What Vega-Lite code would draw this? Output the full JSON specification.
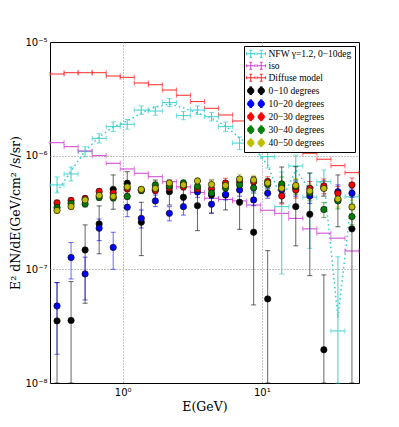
{
  "$schema": "https://vega.github.io/schema/vega-lite/v6.json",
  "width": 309,
  "height": 341,
  "autosize": "none",
  "padding": {"left": 50, "top": 42, "right": 40, "bottom": 44},
  "background": "white",
  "config": {"view": {"stroke": "black", "strokeWidth": 1}},
  "datasets": {
    "curve": [
      {"E": 0.337, "v": 4.8e-7}, {"E": 0.4252, "v": 7.33e-7}, {"E": 0.5365, "v": 1.1e-6}, {"E": 0.6769, "v": 1.46e-6},
      {"E": 0.8542, "v": 1.79e-6}, {"E": 1.0778, "v": 2.02e-6}, {"E": 1.36, "v": 2.37e-6}, {"E": 1.716, "v": 2.68e-6},
      {"E": 2.1652, "v": 2.85e-6}, {"E": 2.732, "v": 2.63e-6}, {"E": 3.4472, "v": 2.37e-6}, {"E": 4.3497, "v": 2.15e-6},
      {"E": 5.4883, "v": 1.82e-6}, {"E": 6.925, "v": 1.43e-6}, {"E": 8.7378, "v": 1.17e-6}, {"E": 11.025, "v": 8.28e-7},
      {"E": 13.911, "v": 4.08e-7}, {"E": 17.553, "v": 7.48e-7}, {"E": 22.148, "v": 4.99e-7}, {"E": 27.946, "v": 6.11e-7},
      {"E": 35.262, "v": 3.74e-8}, {"E": 44.493, "v": 4.51e-7}
    ],
    "models": [
      {"s": "NFW", "E": 0.337, "Elo": 0.3, "Ehi": 0.3786, "v": 5.53e-7, "lo": 4.7e-7, "hi": 6.5e-7},
      {"s": "NFW", "E": 0.4252, "Elo": 0.3786, "Ehi": 0.4777, "v": 6.9e-7, "lo": 5.99e-7, "hi": 7.95e-7},
      {"s": "NFW", "E": 0.5365, "Elo": 0.4777, "Ehi": 0.6027, "v": 1.085e-6, "lo": 9.8e-7, "hi": 1.2e-6},
      {"s": "NFW", "E": 0.6769, "Elo": 0.6027, "Ehi": 0.7605, "v": 1.42e-6, "lo": 1.29e-6, "hi": 1.56e-6},
      {"s": "NFW", "E": 0.8542, "Elo": 0.7605, "Ehi": 0.9596, "v": 1.8e-6, "lo": 1.63e-6, "hi": 1.98e-6},
      {"s": "NFW", "E": 1.0778, "Elo": 0.9596, "Ehi": 1.2108, "v": 1.89e-6, "lo": 1.71e-6, "hi": 2.08e-6},
      {"s": "NFW", "E": 1.36, "Elo": 1.2108, "Ehi": 1.5278, "v": 2.52e-6, "lo": 2.31e-6, "hi": 2.74e-6},
      {"s": "NFW", "E": 1.716, "Elo": 1.5278, "Ehi": 1.9277, "v": 2.47e-6, "lo": 2.27e-6, "hi": 2.69e-6},
      {"s": "NFW", "E": 2.1652, "Elo": 1.9277, "Ehi": 2.4323, "v": 2.93e-6, "lo": 2.7e-6, "hi": 3.18e-6},
      {"s": "NFW", "E": 2.732, "Elo": 2.4323, "Ehi": 3.069, "v": 2.25e-6, "lo": 2.07e-6, "hi": 2.45e-6},
      {"s": "NFW", "E": 3.4472, "Elo": 3.069, "Ehi": 3.8724, "v": 2.52e-6, "lo": 2.31e-6, "hi": 2.74e-6},
      {"s": "NFW", "E": 4.3497, "Elo": 3.8724, "Ehi": 4.8862, "v": 2.2e-6, "lo": 2.02e-6, "hi": 2.4e-6},
      {"s": "NFW", "E": 5.4883, "Elo": 4.8862, "Ehi": 6.1653, "v": 1.8e-6, "lo": 1.63e-6, "hi": 1.98e-6},
      {"s": "NFW", "E": 6.925, "Elo": 6.1653, "Ehi": 7.7793, "v": 1.29e-6, "lo": 1.13e-6, "hi": 1.46e-6},
      {"s": "NFW", "E": 8.7378, "Elo": 7.7793, "Ehi": 9.818, "v": 1.72e-6, "lo": 1.5e-6, "hi": 1.95e-6},
      {"s": "NFW", "E": 11.025, "Elo": 9.818, "Ehi": 12.388, "v": 9.8e-7, "lo": 7.8e-7, "hi": 1.17e-6},
      {"s": "NFW", "E": 13.911, "Elo": 12.388, "Ehi": 15.631, "v": 3.56e-7, "lo": 9.12e-8, "hi": 7.19e-7},
      {"s": "NFW", "E": 17.553, "Elo": 15.631, "Ehi": 19.724, "v": 8.11e-7, "lo": 5.9e-7, "hi": 1.01e-6},
      {"s": "NFW", "E": 22.148, "Elo": 19.724, "Ehi": 24.889, "v": 4.31e-7, "lo": 1.53e-7, "hi": 7.0e-7},
      {"s": "NFW", "E": 27.946, "Elo": 24.889, "Ehi": 31.405, "v": 5.9e-7, "lo": 4.42e-7, "hi": 7.48e-7},
      {"s": "NFW", "E": 35.262, "Elo": 31.405, "Ehi": 39.628, "v": 2.87e-8, "lo": 1e-9, "hi": 1.29e-7},
      {"s": "NFW", "E": 44.493, "Elo": 39.628, "Ehi": 50, "v": 4.34e-7, "lo": 3.84e-7, "hi": 4.99e-7},
      {"s": "iso", "E": 0.337, "Elo": 0.3, "Ehi": 0.3786, "v": 1.3e-6},
      {"s": "iso", "E": 0.4252, "Elo": 0.3786, "Ehi": 0.4777, "v": 1.2e-6},
      {"s": "iso", "E": 0.5365, "Elo": 0.4777, "Ehi": 0.6027, "v": 1.1e-6},
      {"s": "iso", "E": 0.6769, "Elo": 0.6027, "Ehi": 0.7605, "v": 1.0e-6},
      {"s": "iso", "E": 0.8542, "Elo": 0.7605, "Ehi": 0.9596, "v": 8.57e-7},
      {"s": "iso", "E": 1.0778, "Elo": 0.9596, "Ehi": 1.2108, "v": 7.64e-7},
      {"s": "iso", "E": 1.36, "Elo": 1.2108, "Ehi": 1.5278, "v": 7.0e-7},
      {"s": "iso", "E": 1.716, "Elo": 1.5278, "Ehi": 1.9277, "v": 6.53e-7},
      {"s": "iso", "E": 2.1652, "Elo": 1.9277, "Ehi": 2.4323, "v": 5.9e-7},
      {"s": "iso", "E": 2.732, "Elo": 2.4323, "Ehi": 3.069, "v": 5.31e-7},
      {"s": "iso", "E": 3.4472, "Elo": 3.069, "Ehi": 3.8724, "v": 4.75e-7},
      {"s": "iso", "E": 4.3497, "Elo": 3.8724, "Ehi": 4.8862, "v": 4.22e-7},
      {"s": "iso", "E": 5.4883, "Elo": 4.8862, "Ehi": 6.1653, "v": 4.12e-7},
      {"s": "iso", "E": 6.925, "Elo": 6.1653, "Ehi": 7.7793, "v": 4.0e-7},
      {"s": "iso", "E": 8.7378, "Elo": 7.7793, "Ehi": 9.818, "v": 3.68e-7},
      {"s": "iso", "E": 11.025, "Elo": 9.818, "Ehi": 12.388, "v": 3.31e-7},
      {"s": "iso", "E": 13.911, "Elo": 12.388, "Ehi": 15.631, "v": 3.11e-7},
      {"s": "iso", "E": 17.553, "Elo": 15.631, "Ehi": 19.724, "v": 2.81e-7},
      {"s": "iso", "E": 22.148, "Elo": 19.724, "Ehi": 24.889, "v": 2.27e-7},
      {"s": "iso", "E": 27.946, "Elo": 24.889, "Ehi": 31.405, "v": 2.08e-7},
      {"s": "iso", "E": 35.262, "Elo": 31.405, "Ehi": 39.628, "v": 1.88e-7},
      {"s": "iso", "E": 44.493, "Elo": 39.628, "Ehi": 50, "v": 1.45e-7},
      {"s": "diffuse", "E": 0.337, "Elo": 0.3, "Ehi": 0.3786, "v": 5.23e-6},
      {"s": "diffuse", "E": 0.4252, "Elo": 0.3786, "Ehi": 0.4777, "v": 5.37e-6},
      {"s": "diffuse", "E": 0.5365, "Elo": 0.4777, "Ehi": 0.6027, "v": 5.37e-6},
      {"s": "diffuse", "E": 0.6769, "Elo": 0.6027, "Ehi": 0.7605, "v": 5.37e-6},
      {"s": "diffuse", "E": 0.8542, "Elo": 0.7605, "Ehi": 0.9596, "v": 5.02e-6},
      {"s": "diffuse", "E": 1.0778, "Elo": 0.9596, "Ehi": 1.2108, "v": 4.89e-6},
      {"s": "diffuse", "E": 1.36, "Elo": 1.2108, "Ehi": 1.5278, "v": 4.36e-6},
      {"s": "diffuse", "E": 1.716, "Elo": 1.5278, "Ehi": 1.9277, "v": 4.21e-6},
      {"s": "diffuse", "E": 2.1652, "Elo": 1.9277, "Ehi": 2.4323, "v": 3.78e-6},
      {"s": "diffuse", "E": 2.732, "Elo": 2.4323, "Ehi": 3.069, "v": 3.4e-6},
      {"s": "diffuse", "E": 3.4472, "Elo": 3.069, "Ehi": 3.8724, "v": 2.99e-6},
      {"s": "diffuse", "E": 4.3497, "Elo": 3.8724, "Ehi": 4.8862, "v": 2.61e-6},
      {"s": "diffuse", "E": 5.4883, "Elo": 4.8862, "Ehi": 6.1653, "v": 2.28e-6},
      {"s": "diffuse", "E": 6.925, "Elo": 6.1653, "Ehi": 7.7793, "v": 2.02e-6},
      {"s": "diffuse", "E": 8.7378, "Elo": 7.7793, "Ehi": 9.818, "v": 1.75e-6},
      {"s": "diffuse", "E": 11.025, "Elo": 9.818, "Ehi": 12.388, "v": 1.52e-6},
      {"s": "diffuse", "E": 13.911, "Elo": 12.388, "Ehi": 15.631, "v": 1.32e-6},
      {"s": "diffuse", "E": 17.553, "Elo": 15.631, "Ehi": 19.724, "v": 1.16e-6},
      {"s": "diffuse", "E": 22.148, "Elo": 19.724, "Ehi": 24.889, "v": 1.05e-6},
      {"s": "diffuse", "E": 27.946, "Elo": 24.889, "Ehi": 31.405, "v": 9.3e-7},
      {"s": "diffuse", "E": 35.262, "Elo": 31.405, "Ehi": 39.628, "v": 8.17e-7},
      {"s": "diffuse", "E": 44.493, "Elo": 39.628, "Ehi": 50, "v": 7.09e-7}
    ],
    "points": [
      {"s": "d0", "E": 0.337, "v": 3.52e-8, "lo": 1e-9, "hi": 7.64e-8},
      {"s": "d0", "E": 0.4252, "v": 3.55e-8, "lo": 1e-9, "hi": 7.8e-8},
      {"s": "d0", "E": 0.5365, "v": 1.48e-7, "lo": 5.03e-8, "hi": 2.46e-7},
      {"s": "d0", "E": 0.6769, "v": 2.51e-7, "lo": 1.37e-7, "hi": 3.61e-7},
      {"s": "d0", "E": 0.8542, "v": 5.06e-7, "lo": 3.38e-7, "hi": 6.77e-7},
      {"s": "d0", "E": 1.0778, "v": 5.72e-7, "lo": 4.25e-7, "hi": 7.23e-7},
      {"s": "d0", "E": 1.36, "v": 2.6e-7, "lo": 1.32e-7, "hi": 3.89e-7},
      {"s": "d0", "E": 1.716, "v": 4.99e-7, "lo": 4.0e-7, "hi": 6.1e-7},
      {"s": "d0", "E": 2.1652, "v": 4.82e-7, "lo": 3.68e-7, "hi": 6.11e-7},
      {"s": "d0", "E": 2.732, "v": 4.31e-7, "lo": 3.68e-7, "hi": 5.2e-7},
      {"s": "d0", "E": 3.4472, "v": 3.63e-7, "lo": 2.19e-7, "hi": 5.72e-7},
      {"s": "d0", "E": 4.3497, "v": 4.51e-7, "lo": 3.13e-7, "hi": 6.11e-7},
      {"s": "d0", "E": 5.4883, "v": 4.51e-7, "lo": 3.33e-7, "hi": 5.99e-7},
      {"s": "d0", "E": 6.925, "v": 3.89e-7, "lo": 2.25e-7, "hi": 6.53e-7},
      {"s": "d0", "E": 8.7378, "v": 2.12e-7, "lo": 4.86e-8, "hi": 6.53e-7},
      {"s": "d0", "E": 11.025, "v": 5.49e-8, "lo": 1e-9, "hi": 1.46e-7},
      {"s": "d0", "E": 13.911, "v": 5.41e-7, "lo": 3.84e-7, "hi": 7.95e-7},
      {"s": "d0", "E": 17.553, "v": 3.56e-7, "lo": 1.61e-7, "hi": 8.0e-7},
      {"s": "d0", "E": 22.148, "v": 3.05e-7, "lo": 8.8e-8, "hi": 7.04e-7},
      {"s": "d0", "E": 27.946, "v": 1.96e-8, "lo": 1e-9, "hi": 8.93e-8},
      {"s": "d0", "E": 35.262, "v": 4.08e-7, "lo": 2.37e-7, "hi": 6.77e-7},
      {"s": "d0", "E": 44.493, "v": 2.27e-7, "lo": 1e-9, "hi": 5.53e-7},
      {"s": "d10", "E": 0.337, "v": 4.76e-8, "lo": 1.79e-8, "hi": 7.64e-8},
      {"s": "d10", "E": 0.4252, "v": 1.27e-7, "lo": 8.23e-8, "hi": 1.72e-7},
      {"s": "d10", "E": 0.5365, "v": 9.11e-8, "lo": 5.38e-8, "hi": 1.28e-7},
      {"s": "d10", "E": 0.6769, "v": 2.3e-7, "lo": 1.79e-7, "hi": 2.77e-7},
      {"s": "d10", "E": 0.8542, "v": 1.56e-7, "lo": 1.0e-7, "hi": 2.12e-7},
      {"s": "d10", "E": 1.0778, "v": 3.52e-7, "lo": 2.91e-7, "hi": 4.27e-7},
      {"s": "d10", "E": 1.36, "v": 2.81e-7, "lo": 2.31e-7, "hi": 3.33e-7},
      {"s": "d10", "E": 1.716, "v": 4.0e-7, "lo": 3.56e-7, "hi": 4.5e-7},
      {"s": "d10", "E": 2.1652, "v": 3.11e-7, "lo": 2.67e-7, "hi": 3.56e-7},
      {"s": "d10", "E": 2.732, "v": 3.56e-7, "lo": 3.0e-7, "hi": 4.08e-7},
      {"s": "d10", "E": 3.4472, "v": 4.79e-7, "lo": 4.3e-7, "hi": 5.3e-7},
      {"s": "d10", "E": 4.3497, "v": 3.74e-7, "lo": 3.11e-7, "hi": 4.22e-7},
      {"s": "d10", "E": 5.4883, "v": 4.57e-7, "lo": 4.08e-7, "hi": 5.17e-7},
      {"s": "d10", "E": 6.925, "v": 4.99e-7, "lo": 4.4e-7, "hi": 5.6e-7},
      {"s": "d10", "E": 8.7378, "v": 4.08e-7, "lo": 3.63e-7, "hi": 4.8e-7},
      {"s": "d10", "E": 11.025, "v": 4.67e-7, "lo": 4.22e-7, "hi": 5.17e-7},
      {"s": "d10", "E": 13.911, "v": 4.99e-7, "lo": 4.3e-7, "hi": 5.8e-7},
      {"s": "d10", "E": 17.553, "v": 5.2e-7, "lo": 4.4e-7, "hi": 6.0e-7},
      {"s": "d10", "E": 22.148, "v": 4.42e-7, "lo": 3.8e-7, "hi": 5.1e-7},
      {"s": "d10", "E": 27.946, "v": 5.2e-7, "lo": 4.4e-7, "hi": 6.0e-7},
      {"s": "d10", "E": 35.262, "v": 4.82e-7, "lo": 4.22e-7, "hi": 5.53e-7},
      {"s": "d10", "E": 44.493, "v": 4.67e-7, "lo": 4.3e-7, "hi": 5.1e-7},
      {"s": "d20", "E": 0.337, "v": 3.84e-7, "lo": 3.61e-7, "hi": 4.07e-7},
      {"s": "d20", "E": 0.4252, "v": 4.04e-7, "lo": 3.8e-7, "hi": 4.28e-7},
      {"s": "d20", "E": 0.5365, "v": 4.2e-7, "lo": 3.95e-7, "hi": 4.45e-7},
      {"s": "d20", "E": 0.6769, "v": 4.85e-7, "lo": 4.56e-7, "hi": 5.14e-7},
      {"s": "d20", "E": 0.8542, "v": 4.7e-7, "lo": 4.42e-7, "hi": 4.98e-7},
      {"s": "d20", "E": 1.0778, "v": 5.1e-7, "lo": 4.79e-7, "hi": 5.41e-7},
      {"s": "d20", "E": 1.36, "v": 4.99e-7, "lo": 4.69e-7, "hi": 5.29e-7},
      {"s": "d20", "E": 1.716, "v": 4.94e-7, "lo": 4.64e-7, "hi": 5.24e-7},
      {"s": "d20", "E": 2.1652, "v": 5.2e-7, "lo": 4.89e-7, "hi": 5.51e-7},
      {"s": "d20", "E": 2.732, "v": 5.31e-7, "lo": 4.99e-7, "hi": 5.63e-7},
      {"s": "d20", "E": 3.4472, "v": 5.1e-7, "lo": 4.79e-7, "hi": 5.41e-7},
      {"s": "d20", "E": 4.3497, "v": 5.1e-7, "lo": 4.59e-7, "hi": 5.61e-7},
      {"s": "d20", "E": 5.4883, "v": 5.75e-7, "lo": 5.18e-7, "hi": 6.33e-7},
      {"s": "d20", "E": 6.925, "v": 5.93e-7, "lo": 5.34e-7, "hi": 6.52e-7},
      {"s": "d20", "E": 8.7378, "v": 5.87e-7, "lo": 5.28e-7, "hi": 6.46e-7},
      {"s": "d20", "E": 11.025, "v": 5.93e-7, "lo": 5.34e-7, "hi": 6.52e-7},
      {"s": "d20", "E": 13.911, "v": 4.42e-7, "lo": 3.76e-7, "hi": 5.08e-7},
      {"s": "d20", "E": 17.553, "v": 4.99e-7, "lo": 4.24e-7, "hi": 5.74e-7},
      {"s": "d20", "E": 22.148, "v": 5.15e-7, "lo": 4.38e-7, "hi": 5.92e-7},
      {"s": "d20", "E": 27.946, "v": 5.42e-7, "lo": 4.61e-7, "hi": 6.23e-7},
      {"s": "d20", "E": 35.262, "v": 4.65e-7, "lo": 3.95e-7, "hi": 5.35e-7},
      {"s": "d20", "E": 44.493, "v": 5.53e-7, "lo": 4.7e-7, "hi": 6.36e-7},
      {"s": "d30", "E": 0.337, "v": 3.5e-7, "lo": 3.29e-7, "hi": 3.71e-7},
      {"s": "d30", "E": 0.4252, "v": 3.8e-7, "lo": 3.57e-7, "hi": 4.03e-7},
      {"s": "d30", "E": 0.5365, "v": 3.76e-7, "lo": 3.53e-7, "hi": 3.99e-7},
      {"s": "d30", "E": 0.6769, "v": 4.29e-7, "lo": 4.03e-7, "hi": 4.55e-7},
      {"s": "d30", "E": 0.8542, "v": 4.25e-7, "lo": 4.0e-7, "hi": 4.51e-7},
      {"s": "d30", "E": 1.0778, "v": 4.38e-7, "lo": 4.12e-7, "hi": 4.64e-7},
      {"s": "d30", "E": 1.36, "v": 4.94e-7, "lo": 4.64e-7, "hi": 5.24e-7},
      {"s": "d30", "E": 1.716, "v": 5.53e-7, "lo": 5.2e-7, "hi": 5.86e-7},
      {"s": "d30", "E": 2.1652, "v": 5.42e-7, "lo": 5.09e-7, "hi": 5.75e-7},
      {"s": "d30", "E": 2.732, "v": 5.75e-7, "lo": 5.41e-7, "hi": 6.1e-7},
      {"s": "d30", "E": 3.4472, "v": 5.36e-7, "lo": 5.04e-7, "hi": 5.68e-7},
      {"s": "d30", "E": 4.3497, "v": 4.7e-7, "lo": 4.23e-7, "hi": 5.17e-7},
      {"s": "d30", "E": 5.4883, "v": 5.2e-7, "lo": 4.68e-7, "hi": 5.72e-7},
      {"s": "d30", "E": 6.925, "v": 5.53e-7, "lo": 4.98e-7, "hi": 6.08e-7},
      {"s": "d30", "E": 8.7378, "v": 5.2e-7, "lo": 4.68e-7, "hi": 5.72e-7},
      {"s": "d30", "E": 11.025, "v": 5.58e-7, "lo": 5.02e-7, "hi": 6.14e-7},
      {"s": "d30", "E": 13.911, "v": 5.64e-7, "lo": 4.79e-7, "hi": 6.49e-7},
      {"s": "d30", "E": 17.553, "v": 5.36e-7, "lo": 4.56e-7, "hi": 6.16e-7},
      {"s": "d30", "E": 22.148, "v": 4.7e-7, "lo": 4.0e-7, "hi": 5.41e-7},
      {"s": "d30", "E": 27.946, "v": 3.36e-7, "lo": 2.86e-7, "hi": 3.86e-7},
      {"s": "d30", "E": 35.262, "v": 4.0e-7, "lo": 3.4e-7, "hi": 4.6e-7},
      {"s": "d30", "E": 44.493, "v": 2.91e-7, "lo": 2.47e-7, "hi": 3.35e-7},
      {"s": "d40", "E": 0.337, "v": 3.3e-7, "lo": 3.1e-7, "hi": 3.5e-7},
      {"s": "d40", "E": 0.4252, "v": 3.57e-7, "lo": 3.36e-7, "hi": 3.78e-7},
      {"s": "d40", "E": 0.5365, "v": 4.08e-7, "lo": 3.84e-7, "hi": 4.32e-7},
      {"s": "d40", "E": 0.6769, "v": 4.47e-7, "lo": 4.2e-7, "hi": 4.74e-7},
      {"s": "d40", "E": 0.8542, "v": 4.38e-7, "lo": 4.12e-7, "hi": 4.64e-7},
      {"s": "d40", "E": 1.0778, "v": 5.31e-7, "lo": 4.99e-7, "hi": 5.63e-7},
      {"s": "d40", "E": 1.36, "v": 5.05e-7, "lo": 4.75e-7, "hi": 5.35e-7},
      {"s": "d40", "E": 1.716, "v": 5.15e-7, "lo": 4.84e-7, "hi": 5.46e-7},
      {"s": "d40", "E": 2.1652, "v": 5.75e-7, "lo": 5.41e-7, "hi": 6.1e-7},
      {"s": "d40", "E": 2.732, "v": 5.53e-7, "lo": 5.2e-7, "hi": 5.86e-7},
      {"s": "d40", "E": 3.4472, "v": 5.99e-7, "lo": 5.63e-7, "hi": 6.35e-7},
      {"s": "d40", "E": 4.3497, "v": 5.58e-7, "lo": 5.02e-7, "hi": 6.14e-7},
      {"s": "d40", "E": 5.4883, "v": 5.47e-7, "lo": 4.92e-7, "hi": 6.02e-7},
      {"s": "d40", "E": 6.925, "v": 6.24e-7, "lo": 5.62e-7, "hi": 6.86e-7},
      {"s": "d40", "E": 8.7378, "v": 6.11e-7, "lo": 5.5e-7, "hi": 6.72e-7},
      {"s": "d40", "E": 11.025, "v": 5.75e-7, "lo": 5.18e-7, "hi": 6.33e-7},
      {"s": "d40", "E": 13.911, "v": 5.17e-7, "lo": 4.39e-7, "hi": 5.95e-7},
      {"s": "d40", "E": 17.553, "v": 5.47e-7, "lo": 4.65e-7, "hi": 6.29e-7},
      {"s": "d40", "E": 22.148, "v": 4.89e-7, "lo": 4.16e-7, "hi": 5.62e-7},
      {"s": "d40", "E": 27.946, "v": 5.15e-7, "lo": 4.38e-7, "hi": 5.92e-7},
      {"s": "d40", "E": 35.262, "v": 4.16e-7, "lo": 3.54e-7, "hi": 4.78e-7},
      {"s": "d40", "E": 44.493, "v": 3.54e-7, "lo": 3.01e-7, "hi": 4.07e-7}
    ]
  },
  "resolve": {"axis": {"x": "independent", "y": "independent"}, "legend": {"color": "independent", "shape": "independent"}},
  "layer": [
    {
      "data": {"name": "curve"},
      "mark": {"type": "line", "color": "#33cccc", "strokeDash": [1.5, 3], "strokeWidth": 1.5},
      "encoding": {
        "x": {"field": "E", "type": "quantitative", "scale": {"type": "log", "domain": [0.3, 50], "nice": false},
          "axis": {"orient": "bottom", "values": [0.3, 0.4, 0.5, 0.6, 0.7, 0.8, 0.9, 1, 2, 3, 4, 5, 6, 7, 8, 9, 10, 20, 30, 40, 50],
            "labelExpr": "datum.value==1?'10⁰':datum.value==10?'10¹':''",
            "labelFont": "DejaVu Sans", "labelFontSize": 10, "labelColor": "black", "labelPadding": 4, "labelOverlap": false, "labelFlush": false,
            "domain": false, "ticks": true, "tickSize": 0, "tickColor": "black",
            "grid": true, "gridColor": "#888888", "gridDash": [1, 2], "gridWidth": 1,
            "gridOpacity": {"condition": {"test": "datum.value==1||datum.value==10", "value": 1}, "value": 0},
            "title": "E(GeV)", "titleFont": "DejaVu Serif", "titleFontSize": 12.5, "titleFontWeight": "normal", "titleColor": "black", "titlePadding": 3,
            "encode": {
              "ticks": {"update": {"y2": {"signal": "abs(log(datum.value)/LN10-round(log(datum.value)/LN10))<0.001?-6:-3"}}}
            }
          }
        },
        "y": {"field": "v", "type": "quantitative", "scale": {"type": "log", "domain": [1e-8, 1e-5], "nice": false, "clamp": true},
          "axis": {"orient": "left",
            "values": [1e-8, 2e-8, 3e-8, 4e-8, 5e-8, 6e-8, 7e-8, 8e-8, 9e-8, 1e-7, 2e-7, 3e-7, 4e-7, 5e-7, 6e-7, 7e-7, 8e-7, 9e-7, 1e-6, 2e-6, 3e-6, 4e-6, 5e-6, 6e-6, 7e-6, 8e-6, 9e-6, 1e-5],
            "labelExpr": "datum.value==1e-8?'10⁻⁸':datum.value==1e-7?'10⁻⁷':datum.value==1e-6?'10⁻⁶':datum.value==1e-5?'10⁻⁵':''",
            "labelFont": "DejaVu Sans", "labelFontSize": 10, "labelColor": "black", "labelPadding": 3, "labelOverlap": false, "labelFlush": false,
            "domain": false, "ticks": true, "tickSize": 0, "tickColor": "black",
            "grid": true, "gridColor": "#888888", "gridDash": [1, 2], "gridWidth": 1,
            "gridOpacity": {"condition": {"test": "datum.value==1e-7||datum.value==1e-6", "value": 1}, "value": 0},
            "title": "E² dN/dE(GeV/cm² /s/sr)", "titleFont": "DejaVu Serif", "titleFontSize": 12.5, "titleFontWeight": "normal", "titleColor": "black", "titlePadding": 2,
            "encode": {
              "ticks": {"update": {"x2": {"signal": "abs(log(datum.value)/LN10-round(log(datum.value)/LN10))<0.001?6:3"}}}
            }
          }
        }
      }
    },
    {
      "data": {"name": "models"},
      "mark": {"type": "errorbar", "ticks": {"size": 5}, "thickness": 1},
      "encoding": {
        "x": {"field": "Elo", "type": "quantitative", "scale": {"type": "log", "domain": [0.3, 50], "nice": false}, "axis": null},
        "x2": {"field": "Ehi"},
        "y": {"field": "v", "type": "quantitative", "scale": {"type": "log", "domain": [1e-8, 1e-5], "nice": false, "clamp": true}, "axis": null},
        "color": {"field": "s", "type": "nominal", "legend": null,
          "scale": {"domain": ["NFW", "iso", "diffuse", "d0", "d10", "d20", "d30", "d40"], "range": ["#3cd0d0", "#d040d0", "#ff2a2a", "#000000", "#0000ff", "#ff0000", "#008000", "#bfbf00"]}}
      }
    },
    {
      "data": {"name": "models"},
      "transform": [{"filter": "datum.s=='NFW'"}],
      "mark": {"type": "errorbar", "ticks": {"size": 5}, "thickness": 1},
      "encoding": {
        "x": {"field": "E", "type": "quantitative", "scale": {"type": "log", "domain": [0.3, 50], "nice": false}, "axis": null},
        "y": {"field": "lo", "type": "quantitative", "scale": {"type": "log", "domain": [1e-8, 1e-5], "nice": false, "clamp": true}, "axis": null},
        "y2": {"field": "hi"},
        "color": {"field": "s", "type": "nominal", "legend": null,
          "scale": {"domain": ["NFW", "iso", "diffuse", "d0", "d10", "d20", "d30", "d40"], "range": ["#3cd0d0", "#d040d0", "#ff2a2a", "#000000", "#0000ff", "#ff0000", "#008000", "#bfbf00"]}}
      }
    },
    {
      "data": {"name": "points"},
      "mark": {"type": "errorbar", "ticks": {"size": 5}, "thickness": 1},
      "encoding": {
        "x": {"field": "E", "type": "quantitative", "scale": {"type": "log", "domain": [0.3, 50], "nice": false}, "axis": null},
        "y": {"field": "lo", "type": "quantitative", "scale": {"type": "log", "domain": [1e-8, 1e-5], "nice": false, "clamp": true}, "axis": null},
        "y2": {"field": "hi"},
        "opacity": {"value": 0.6},
        "color": {"field": "s", "type": "nominal", "legend": null,
          "scale": {"domain": ["NFW", "iso", "diffuse", "d0", "d10", "d20", "d30", "d40"], "range": ["#3cd0d0", "#d040d0", "#ff2a2a", "#000000", "#0000ff", "#ff0000", "#008000", "#bfbf00"]}}
      }
    },
    {
      "data": {"name": "points"},
      "mark": {"type": "point", "filled": true, "shape": "circle", "size": 40, "stroke": "#111111", "strokeWidth": 0.7, "opacity": 1},
      "encoding": {
        "x": {"field": "E", "type": "quantitative", "scale": {"type": "log", "domain": [0.3, 50], "nice": false}, "axis": null},
        "y": {"field": "v", "type": "quantitative", "scale": {"type": "log", "domain": [1e-8, 1e-5], "nice": false, "clamp": true}, "axis": null},
        "color": {"field": "s", "type": "nominal", "legend": null,
          "scale": {"domain": ["NFW", "iso", "diffuse", "d0", "d10", "d20", "d30", "d40"], "range": ["#3cd0d0", "#d040d0", "#ff2a2a", "#000000", "#0000ff", "#ff0000", "#008000", "#bfbf00"]}}
      }
    },
    {
      "data": {"name": "points"},
      "mark": {"type": "point", "filled": true, "opacity": 0},
      "encoding": {
        "x": {"field": "E", "type": "quantitative", "scale": {"type": "log", "domain": [0.3, 50], "nice": false},
          "axis": {"orient": "top", "values": [0.3, 0.4, 0.5, 0.6, 0.7, 0.8, 0.9, 1, 2, 3, 4, 5, 6, 7, 8, 9, 10, 20, 30, 40, 50],
            "labels": false, "domain": false, "ticks": true, "tickSize": 0, "tickColor": "black", "grid": false, "title": null,
            "encode": {"ticks": {"update": {"y2": {"signal": "abs(log(datum.value)/LN10-round(log(datum.value)/LN10))<0.001?6:3"}}}}
          }
        },
        "y": {"field": "v", "type": "quantitative", "scale": {"type": "log", "domain": [1e-8, 1e-5], "nice": false, "clamp": true},
          "axis": {"orient": "right",
            "values": [1e-8, 2e-8, 3e-8, 4e-8, 5e-8, 6e-8, 7e-8, 8e-8, 9e-8, 1e-7, 2e-7, 3e-7, 4e-7, 5e-7, 6e-7, 7e-7, 8e-7, 9e-7, 1e-6, 2e-6, 3e-6, 4e-6, 5e-6, 6e-6, 7e-6, 8e-6, 9e-6, 1e-5],
            "labels": false, "domain": false, "ticks": true, "tickSize": 0, "tickColor": "black", "grid": false, "title": null,
            "encode": {"ticks": {"update": {"x2": {"signal": "abs(log(datum.value)/LN10-round(log(datum.value)/LN10))<0.001?-6:-3"}}}}
          }
        },
        "color": {"field": "s", "type": "nominal",
          "scale": {"domain": ["NFW", "iso", "diffuse", "d0", "d10", "d20", "d30", "d40"], "range": ["#3cd0d0", "#d040d0", "#ff2a2a", "#000000", "#0000ff", "#ff0000", "#008000", "#bfbf00"]},
          "legend": {"orient": "top-right", "offset": 4, "padding": 3, "fillColor": "white", "strokeColor": "black", "title": null,
            "labelFont": "Liberation Serif", "labelFontSize": 9.5, "labelColor": "black", "labelLimit": 200, "symbolSize": 49, "labelOffset": 12, "rowPadding": 0,
            "labelExpr": "datum.value=='NFW'?'NFW γ=1.2, 0−10deg':datum.value=='iso'?'iso':datum.value=='diffuse'?'Diffuse model':datum.value=='d0'?'0−10 degrees':datum.value=='d10'?'10−20 degrees':datum.value=='d20'?'20−30 degrees':datum.value=='d30'?'30−40 degrees':'40−50 degrees'",
            "encode": {"symbols": {"update": {"fill": {"scale": "color", "field": "value"}, "stroke": {"scale": "color", "field": "value"}, "opacity": {"value": 1}, "strokeWidth": {"value": 1}, "size": {"value": 49}, "x": {"value": 9}}}}
          }
        },
        "shape": {"field": "s", "type": "nominal",
          "scale": {"domain": ["NFW", "iso", "diffuse", "d0", "d10", "d20", "d30", "d40"],
            "range": [
              "M-2.7,0H-0.3M-1.5,-1V1M-2.7,-0.4V0.4M-0.3,-0.4V0.4M-1.9,-1H-1.1M-1.9,1H-1.1M0.3,0H2.7M1.5,-1V1M0.3,-0.4V0.4M2.7,-0.4V0.4M1.1,-1H1.9M1.1,1H1.9",
              "M-2.7,0H-0.3M-1.5,-1V1M-2.7,-0.4V0.4M-0.3,-0.4V0.4M-1.9,-1H-1.1M-1.9,1H-1.1M0.3,0H2.7M1.5,-1V1M0.3,-0.4V0.4M2.7,-0.4V0.4M1.1,-1H1.9M1.1,1H1.9",
              "M-2.7,0H-0.3M-1.5,-1V1M-2.7,-0.4V0.4M-0.3,-0.4V0.4M-1.9,-1H-1.1M-1.9,1H-1.1M0.3,0H2.7M1.5,-1V1M0.3,-0.4V0.4M2.7,-0.4V0.4M1.1,-1H1.9M1.1,1H1.9",
              "M-2.4,0A0.9,0.9 0 0,1 -0.6,0A0.9,0.9 0 0,1 -2.4,0ZM0.6,0A0.9,0.9 0 0,1 2.4,0A0.9,0.9 0 0,1 0.6,0ZM-1.5,-1.1V1.1M-1.85,-1.1H-1.15M-1.85,1.1H-1.15M1.5,-1.1V1.1M1.15,-1.1H1.85M1.15,1.1H1.85",
              "M-2.4,0A0.9,0.9 0 0,1 -0.6,0A0.9,0.9 0 0,1 -2.4,0ZM0.6,0A0.9,0.9 0 0,1 2.4,0A0.9,0.9 0 0,1 0.6,0ZM-1.5,-1.1V1.1M-1.85,-1.1H-1.15M-1.85,1.1H-1.15M1.5,-1.1V1.1M1.15,-1.1H1.85M1.15,1.1H1.85",
              "M-2.4,0A0.9,0.9 0 0,1 -0.6,0A0.9,0.9 0 0,1 -2.4,0ZM0.6,0A0.9,0.9 0 0,1 2.4,0A0.9,0.9 0 0,1 0.6,0ZM-1.5,-1.1V1.1M-1.85,-1.1H-1.15M-1.85,1.1H-1.15M1.5,-1.1V1.1M1.15,-1.1H1.85M1.15,1.1H1.85",
              "M-2.4,0A0.9,0.9 0 0,1 -0.6,0A0.9,0.9 0 0,1 -2.4,0ZM0.6,0A0.9,0.9 0 0,1 2.4,0A0.9,0.9 0 0,1 0.6,0ZM-1.5,-1.1V1.1M-1.85,-1.1H-1.15M-1.85,1.1H-1.15M1.5,-1.1V1.1M1.15,-1.1H1.85M1.15,1.1H1.85",
              "M-2.4,0A0.9,0.9 0 0,1 -0.6,0A0.9,0.9 0 0,1 -2.4,0ZM0.6,0A0.9,0.9 0 0,1 2.4,0A0.9,0.9 0 0,1 0.6,0ZM-1.5,-1.1V1.1M-1.85,-1.1H-1.15M-1.85,1.1H-1.15M1.5,-1.1V1.1M1.15,-1.1H1.85M1.15,1.1H1.85"
            ]},
          "legend": {"orient": "top-right", "offset": 4, "padding": 3, "fillColor": "white", "strokeColor": "black", "title": null,
            "labelFont": "Liberation Serif", "labelFontSize": 9.5, "labelColor": "black", "labelLimit": 200, "symbolSize": 49, "labelOffset": 12, "rowPadding": 0}
        }
      }
    }
  ]
}
